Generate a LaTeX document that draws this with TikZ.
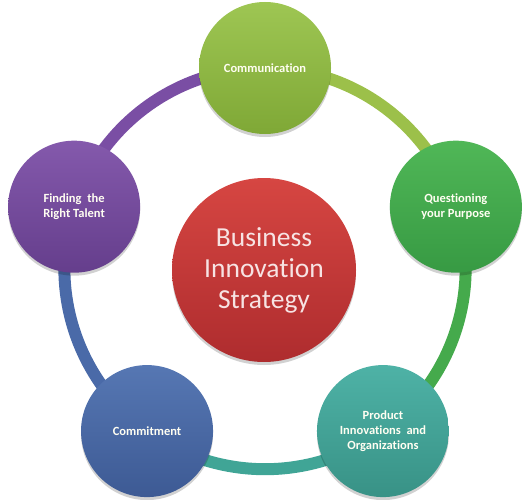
\documentclass[tikz,border=0pt]{standalone}
\usepackage{fontspec}
\setmainfont{Carlito}[Ligatures=NoCommon]
\usetikzlibrary{backgrounds,shadows,calc}
\definecolor{comT}{HTML}{9EC653}\definecolor{comB}{HTML}{7FA836}\definecolor{comR}{HTML}{9CC04A}
\definecolor{qT}{HTML}{50B757}\definecolor{qB}{HTML}{379A43}\definecolor{qR}{HTML}{45AA4C}
\definecolor{pT}{HTML}{4EB2A6}\definecolor{pB}{HTML}{389286}\definecolor{pR}{HTML}{40A596}
\definecolor{cmT}{HTML}{5677B3}\definecolor{cmB}{HTML}{3D5A94}\definecolor{cmR}{HTML}{4A6AA8}
\definecolor{fT}{HTML}{8459AC}\definecolor{fB}{HTML}{653E8C}\definecolor{fR}{HTML}{7A4EA4}
\definecolor{cT}{HTML}{D64642}\definecolor{cB}{HTML}{AE2C2E}
\definecolor{ctext}{HTML}{F7E3E3}
\tikzset{
  outer/.style={circle, minimum size=132pt, inner sep=0pt, align=center,
    font=\bfseries\fontsize{12.5}{15}\selectfont, text=white!95!yellow,
    drop shadow={shadow xshift=0pt, shadow yshift=-3pt, opacity=0.18, fill=black}},
  ringseg/.style={line width=12pt, bend left=36, looseness=0.94}
}
\begin{document}
\begin{tikzpicture}[x=1pt,y=1pt]
\useasboundingbox (0,0) rectangle (529,499);
\coordinate (C) at (265,230.3);
\node[circle, minimum size=184pt, inner sep=0pt, top color=cT, bottom color=cB,
  align=center, text=ctext, font=\fontsize{27.5}{31}\selectfont,
  drop shadow={shadow xshift=0pt, shadow yshift=-3pt, opacity=0.18, fill=black}]
  (core) at (264,229) {Business\\Innovation\\Strategy};
\node[outer, top color=comT, bottom color=comB] (com) at ($(C)+(90:200.7)$) {Communication};
\node[outer, top color=qT, bottom color=qB] (q) at ($(C)+(18:200.7)$) {Questioning\\your Purpose};
\node[outer, top color=pT, bottom color=pB] (p) at ($(C)+(-54:200.7)$) {Product\\Innovations~ and\\Organizations};
\node[outer, top color=cmT, bottom color=cmB] (cm) at ($(C)+(-126:200.7)$) {Commitment};
\node[outer, top color=fT, bottom color=fB] (f) at ($(C)+(162:200.7)$) {Finding~ the\\Right Talent};
\begin{scope}[on background layer]
\draw[ringseg, draw=fR] (f.center) to (com.center);
\draw[ringseg, draw=comR] (com.center) to (q.center);
\draw[ringseg, draw=qR] (q.center) to (p.center);
\draw[ringseg, draw=pR] (p.center) to (cm.center);
\draw[ringseg, draw=cmR] (cm.center) to (f.center);
\end{scope}
\end{tikzpicture}
\end{document}
